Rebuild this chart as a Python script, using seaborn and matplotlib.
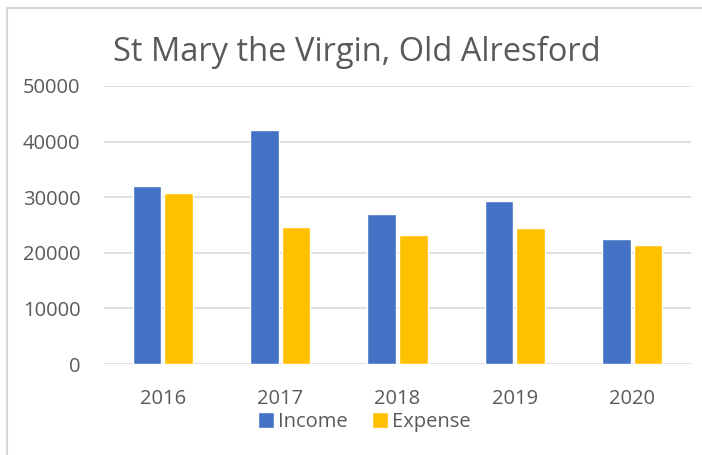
import pandas as pd
import matplotlib.pyplot as plt
import seaborn as sns
from matplotlib.lines import Line2D

years = ["2016", "2017", "2018", "2019", "2020"]
income = [32000, 42000, 26900, 29300, 22500]
expense = [30800, 24600, 23200, 24400, 21400]

df = pd.DataFrame({
    "Year": years * 2,
    "Amount": income + expense,
    "Type": ["Income"] * len(years) + ["Expense"] * len(years),
})

sns.set_style("white")
plt.rcParams["font.family"] = ["Open Sans", "DejaVu Sans"]
grey = "#595959"

fig = plt.figure(figsize=(7.02, 4.55), dpi=100)
ax = fig.add_axes([104 / 702, 1 - 364 / 455, 587 / 702, (364 - 86) / 455])

sns.barplot(
    data=df, x="Year", y="Amount", hue="Type",
    palette={"Income": "#4472C4", "Expense": "#FFC000"},
    width=0.54, gap=0.1, saturation=1, ax=ax, zorder=3,
)

ax.set_ylim(0, 50000)
ax.set_yticks(range(0, 50001, 10000))
ax.grid(axis="y", color="#D9D9D9", linewidth=1.2, zorder=0)
ax.set_axisbelow(True)
for s in ax.spines.values():
    s.set_visible(False)
ax.set_xlabel("")
ax.set_ylabel("")
ax.tick_params(axis="both", length=0, labelsize=14.5, labelcolor=grey)
ax.tick_params(axis="y", pad=17)
ax.tick_params(axis="x", pad=18)

ax.legend(
    loc="center", bbox_to_anchor=((364 - 104) / 587, -58 / 278), ncol=2,
    frameon=False, fontsize=14.5, labelcolor=grey, handlelength=0.8,
    handleheight=0.8, handletextpad=0.2, columnspacing=1.2,
)

fig.text(113 / 702, 1 - 52 / 455, "St Mary the Virgin, Old Alresford",
         fontsize=23.5, color=grey, va="center", ha="left")

fig.add_artist(Line2D([7 / 702, 7 / 702], [0, 1 - 8 / 455],
                      transform=fig.transFigure, color="#D9D9D9", linewidth=1.5))
fig.add_artist(Line2D([7 / 702, 1], [1 - 8 / 455, 1 - 8 / 455],
                      transform=fig.transFigure, color="#D9D9D9", linewidth=1.5))

fig.savefig("out.png", dpi=100)
